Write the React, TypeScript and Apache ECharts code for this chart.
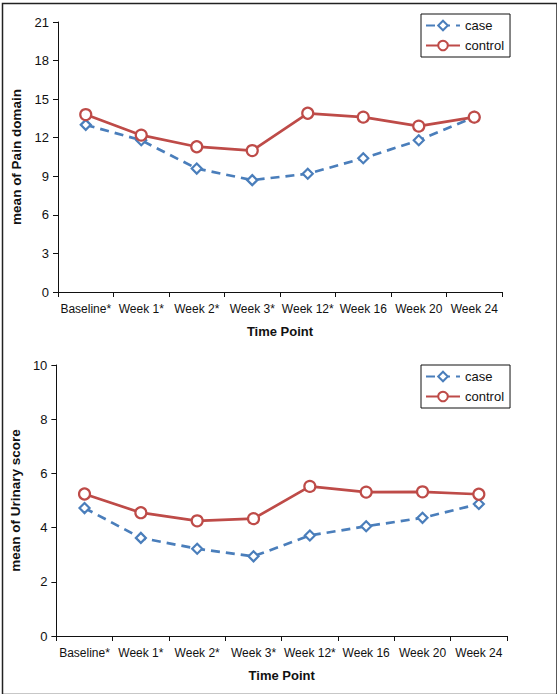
import React, { useEffect, useRef } from "react";
import * as echarts from "echarts";

const categories = ["Baseline*", "Week 1*", "Week 2*", "Week 3*", "Week 12*", "Week 16", "Week 20", "Week 24"];
const painCase = [13.0, 11.8, 9.6, 8.7, 9.2, 10.4, 11.8, 13.6];
const painControl = [13.8, 12.2, 11.3, 11.0, 13.9, 13.6, 12.9, 13.6];
const urinaryCase = [4.72, 3.62, 3.22, 2.94, 3.71, 4.05, 4.36, 4.87];
const urinaryControl = [5.24, 4.55, 4.25, 4.33, 5.52, 5.31, 5.32, 5.23];

const BLUE = "#4a7ebb";
const RED = "#be4b48";
const FONT = "Liberation Sans, Arial, sans-serif";

export default function App() {
  const ref = useRef<HTMLDivElement>(null);
  useEffect(() => {
    if (!ref.current) return;
    const chart = echarts.init(ref.current, null, { renderer: "svg" });
    const xAxisBase = (gridIndex: number) => ({
      type: "category" as const,
      gridIndex,
      data: categories,
      boundaryGap: true,
      name: "Time Point",
      nameLocation: "middle" as const,
      nameGap: 33,
      nameTextStyle: { fontFamily: FONT, fontSize: 13, fontWeight: "bold", color: "#111" },
      axisLine: { lineStyle: { color: "#111", width: 1 } },
      axisTick: { show: true, length: 5, alignWithLabel: false, lineStyle: { color: "#111" } },
      axisLabel: { fontFamily: FONT, fontSize: 12, color: "#111", margin: 11, interval: 0 },
      splitLine: { show: false },
    });
    const yAxisBase = (gridIndex: number, name: string, max: number, interval: number, gap: number) => ({
      type: "value" as const,
      gridIndex,
      min: 0,
      max,
      interval,
      name,
      nameLocation: "middle" as const,
      nameGap: gap,
      nameTextStyle: { fontFamily: FONT, fontSize: 13.5, fontWeight: "bold", color: "#111" },
      axisLine: { show: true, lineStyle: { color: "#111", width: 1 } },
      axisTick: { show: true, length: 5, lineStyle: { color: "#111" } },
      axisLabel: { fontFamily: FONT, fontSize: 13, color: "#111", margin: 9 },
      splitLine: { show: false },
    });
    const caseSeries = (xi: number, data: number[]) => ({
      name: "case",
      type: "line" as const,
      xAxisIndex: xi,
      yAxisIndex: xi,
      data,
      symbol: "diamond",
      symbolSize: 10,
      showAllSymbol: true,
      lineStyle: { color: BLUE, width: 2.7, type: [9, 6] },
      itemStyle: { color: "#ffffff", borderColor: BLUE, borderWidth: 2.2 },
    });
    const controlSeries = (xi: number, data: number[]) => ({
      name: "control",
      type: "line" as const,
      xAxisIndex: xi,
      yAxisIndex: xi,
      data,
      symbol: "circle",
      symbolSize: 11,
      showAllSymbol: true,
      lineStyle: { color: RED, width: 2.7 },
      itemStyle: { color: "#ffffff", borderColor: RED, borderWidth: 2.2 },
    });
    const legendBase = (top: number, seriesNames: string[]) => ({
      orient: "vertical" as const,
      left: 421,
      top,
      data: seriesNames,
      borderColor: "#111",
      borderWidth: 1,
      padding: [5, 6, 5, 4],
      itemWidth: 34,
      itemHeight: 12,
      itemGap: 7,
      textStyle: { fontFamily: FONT, fontSize: 13, color: "#111" },
    });
    chart.setOption({
      animation: false,
      backgroundColor: "#ffffff",
      grid: [
        { left: 58, top: 22, width: 444, height: 270 },
        { left: 56, top: 365, width: 451, height: 271 },
      ],
      xAxis: [xAxisBase(0), xAxisBase(1)],
      yAxis: [
        yAxisBase(0, "mean of Pain domain", 21, 3, 26),
        yAxisBase(1, "mean of Urinary score", 10, 2, 29),
      ],
      legend: [
        { ...legendBase(14, ["case", "control"]) },
        { ...legendBase(365, ["case", "control"]) },
      ],
      series: [
        caseSeries(0, painCase),
        controlSeries(0, painControl),
        caseSeries(1, urinaryCase),
        controlSeries(1, urinaryControl),
      ],
      graphic: [
        {
          type: "rect",
          left: 0,
          top: 1,
          shape: { x: 0.75, y: 0, width: 554.5, height: 691 },
          style: { fill: "none", stroke: "#222", lineWidth: 1.5 },
          silent: true,
        },
      ],
    });
    return () => chart.dispose();
  }, []);
  return (
    <div
      ref={ref}
      style={{ position: "absolute", left: 0, top: 0, width: 557, height: 694, background: "#fff" }}
    />
  );
}
